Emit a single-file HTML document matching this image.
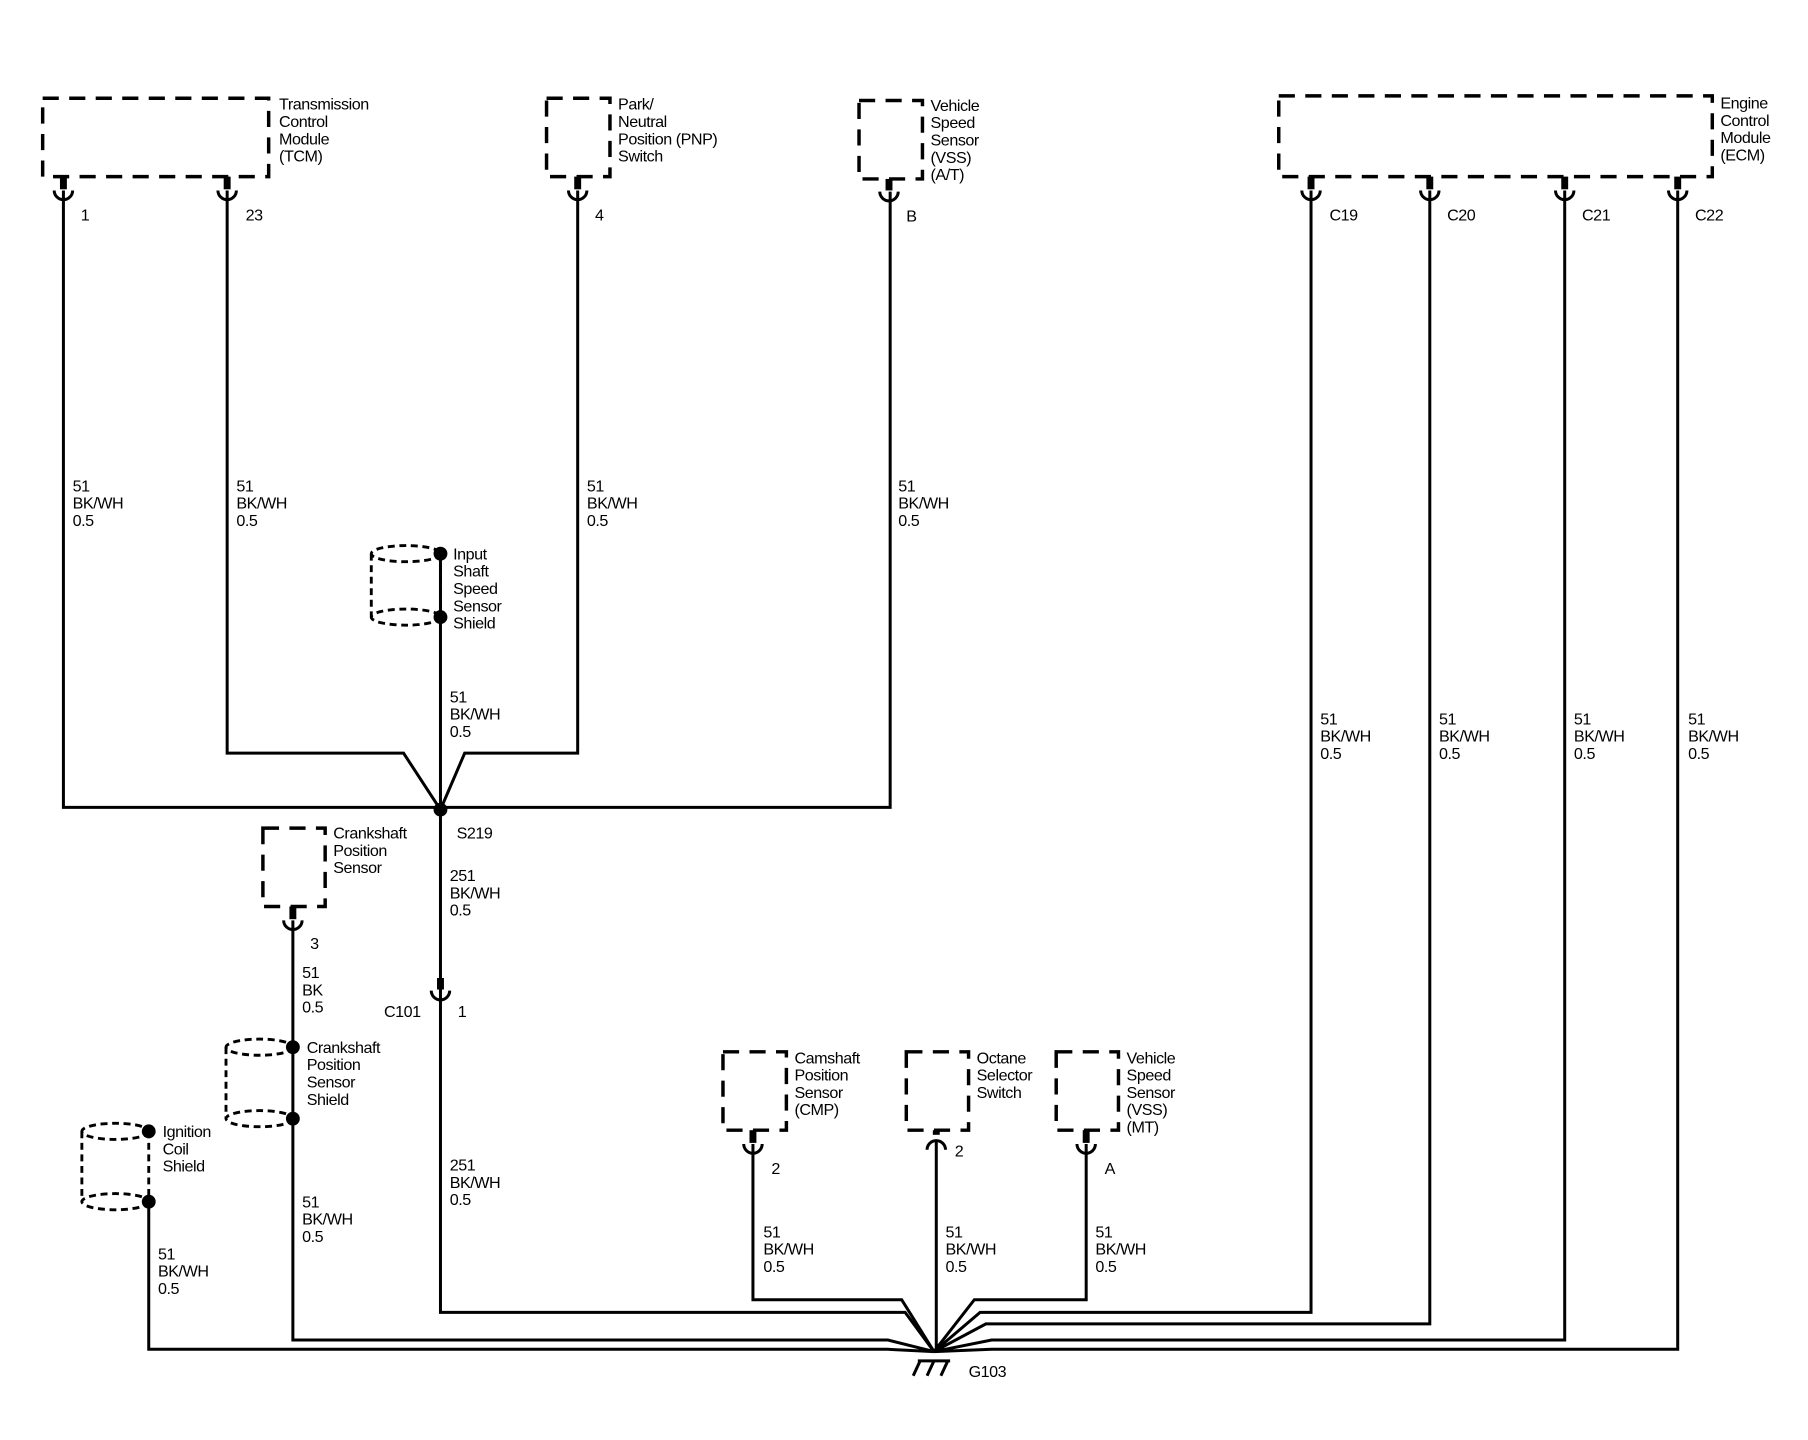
<!DOCTYPE html>
<html><head><meta charset="utf-8"><style>html,body{margin:0;padding:0;background:#fff}svg{display:block}text{font-family:"Liberation Sans",sans-serif;font-size:14px;fill:#000;letter-spacing:-0.4px}</style></head><body>
<svg width="1808" height="1440" viewBox="0 0 1568 1248.5" xmlns="http://www.w3.org/2000/svg">
<g fill="none" stroke="#000" stroke-width="3" stroke-dasharray="14,9">
<rect x="37" y="85" width="196" height="68"/>
<rect x="474" y="85" width="55" height="68"/>
<rect x="745" y="87" width="55" height="68"/>
<rect x="1109" y="83" width="376" height="70"/>
<rect x="228" y="718" width="54" height="68"/>
<rect x="627" y="912" width="55" height="68"/>
<rect x="786" y="912" width="54" height="68"/>
<rect x="916" y="912" width="54" height="68"/>
</g>
<g fill="none" stroke="#000" stroke-width="2.5" stroke-dasharray="6,4">
<ellipse cx="352" cy="480" rx="30" ry="7"/><ellipse cx="352" cy="535" rx="30" ry="7"/><line x1="322" y1="480" x2="322" y2="535"/><line x1="382" y1="480" x2="382" y2="535"/>
<ellipse cx="225" cy="908" rx="29" ry="7"/><ellipse cx="225" cy="970" rx="29" ry="7"/><line x1="196" y1="908" x2="196" y2="970"/>
<ellipse cx="100" cy="981" rx="29" ry="7"/><ellipse cx="100" cy="1042" rx="29" ry="7"/><line x1="71" y1="981" x2="71" y2="1042"/><line x1="129" y1="981" x2="129" y2="1042"/>
</g>
<g fill="#000">
<rect x="52" y="153" width="6" height="11"/><rect x="194" y="153" width="6" height="11"/><rect x="498" y="153" width="6" height="11"/><rect x="768" y="155" width="6" height="10"/>
<rect x="1134" y="153" width="6" height="11"/><rect x="1237" y="153" width="6" height="11"/><rect x="1354" y="153" width="6" height="11"/><rect x="1452" y="153" width="6" height="11"/>
<rect x="251" y="786" width="6" height="11"/><rect x="650" y="980" width="6" height="11"/><rect x="939" y="980" width="6" height="11"/><rect x="809" y="980" width="6" height="4"/>
<rect x="379" y="848" width="6" height="10"/>
<circle cx="382" cy="480" r="6"/><circle cx="382" cy="535" r="6"/><circle cx="382" cy="702" r="6"/>
<circle cx="254" cy="908" r="6"/><circle cx="254" cy="970" r="6"/><circle cx="129" cy="981" r="6"/><circle cx="129" cy="1042" r="6"/>
</g>
<g fill="none" stroke="#000" stroke-width="2.6">
<path d="M47,165 A8,8 0 0 0 63,165 M189,165 A8,8 0 0 0 205,165 M493,165 A8,8 0 0 0 509,165 M763,166 A8,8 0 0 0 779,166 M1129,165 A8,8 0 0 0 1145,165 M1232,165 A8,8 0 0 0 1248,165 M1349,165 A8,8 0 0 0 1365,165 M1447,165 A8,8 0 0 0 1463,165 M246,798 A8,8 0 0 0 262,798 M645,992 A8,8 0 0 0 661,992 M934,992 A8,8 0 0 0 950,992 M374,859 A8,8 0 0 0 390,859 M804,997 A8,8 0 0 1 820,997"/>
<path d="M55,165 V700 H772 V166 M197,165 V653 H350 L382,702 M501,165 V653 H403 L382,702 M382,480 V870 M382,866 V1138 H785 L810,1172"/>
<path d="M254,798 V1162 H770 L810,1172 M129,1042 V1170 H770 L810,1172"/>
<path d="M653,992 V1127 H782 L810,1172 M812,989 V1172 M942,992 V1127 H845 L810,1172"/>
<path d="M1137,165 V1138 H850 L810,1172 M1240,165 V1148 H855 L810,1172 M1357,165 V1162 H860 L810,1172 M1455,165 V1170 H860 L810,1172"/>
<path d="M798,1180 L792,1193 M810,1180 L804,1193 M822,1180 L816,1193 M796,1180 H824"/>
</g>
<g>
<text x="242" y="95">Transmission</text><text x="242" y="110">Control</text><text x="242" y="125">Module</text><text x="242" y="140">(TCM)</text>
<text x="536" y="95">Park/</text><text x="536" y="110">Neutral</text><text x="536" y="125">Position (PNP)</text><text x="536" y="140">Switch</text>
<text x="807" y="96">Vehicle</text><text x="807" y="111">Speed</text><text x="807" y="126">Sensor</text><text x="807" y="141">(VSS)</text><text x="807" y="156">(A/T)</text>
<text x="1492" y="94">Engine</text><text x="1492" y="109">Control</text><text x="1492" y="124">Module</text><text x="1492" y="139">(ECM)</text>
<text x="70" y="191">1</text><text x="213" y="191">23</text><text x="516" y="191">4</text><text x="786" y="192">B</text>
<text x="1153" y="191">C19</text><text x="1255" y="191">C20</text><text x="1372" y="191">C21</text><text x="1470" y="191">C22</text>
<text x="63" y="426">51</text><text x="63" y="441">BK/WH</text><text x="63" y="456">0.5</text>
<text x="205" y="426">51</text><text x="205" y="441">BK/WH</text><text x="205" y="456">0.5</text>
<text x="509" y="426">51</text><text x="509" y="441">BK/WH</text><text x="509" y="456">0.5</text>
<text x="779" y="426">51</text><text x="779" y="441">BK/WH</text><text x="779" y="456">0.5</text>
<text x="393" y="485">Input</text><text x="393" y="500">Shaft</text><text x="393" y="515">Speed</text><text x="393" y="530">Sensor</text><text x="393" y="545">Shield</text>
<text x="390" y="609">51</text><text x="390" y="624">BK/WH</text><text x="390" y="639">0.5</text>
<text x="1145" y="628">51</text><text x="1145" y="643">BK/WH</text><text x="1145" y="658">0.5</text>
<text x="1248" y="628">51</text><text x="1248" y="643">BK/WH</text><text x="1248" y="658">0.5</text>
<text x="1365" y="628">51</text><text x="1365" y="643">BK/WH</text><text x="1365" y="658">0.5</text>
<text x="1464" y="628">51</text><text x="1464" y="643">BK/WH</text><text x="1464" y="658">0.5</text>
<text x="396" y="727">S219</text>
<text x="289" y="727">Crankshaft</text><text x="289" y="742">Position</text><text x="289" y="757">Sensor</text>
<text x="390" y="764">251</text><text x="390" y="779">BK/WH</text><text x="390" y="794">0.5</text>
<text x="269" y="823">3</text>
<text x="262" y="848">51</text><text x="262" y="863">BK</text><text x="262" y="878">0.5</text>
<text x="333" y="882">C101</text><text x="397" y="882">1</text>
<text x="266" y="913">Crankshaft</text><text x="266" y="928">Position</text><text x="266" y="943">Sensor</text><text x="266" y="958">Shield</text>
<text x="141" y="986">Ignition</text><text x="141" y="1001">Coil</text><text x="141" y="1016">Shield</text>
<text x="390" y="1015">251</text><text x="390" y="1030">BK/WH</text><text x="390" y="1045">0.5</text>
<text x="262" y="1047">51</text><text x="262" y="1062">BK/WH</text><text x="262" y="1077">0.5</text>
<text x="137" y="1092">51</text><text x="137" y="1107">BK/WH</text><text x="137" y="1122">0.5</text>
<text x="689" y="922">Camshaft</text><text x="689" y="937">Position</text><text x="689" y="952">Sensor</text><text x="689" y="967">(CMP)</text>
<text x="847" y="922">Octane</text><text x="847" y="937">Selector</text><text x="847" y="952">Switch</text>
<text x="977" y="922">Vehicle</text><text x="977" y="937">Speed</text><text x="977" y="952">Sensor</text><text x="977" y="967">(VSS)</text><text x="977" y="982">(MT)</text>
<text x="669" y="1018">2</text><text x="828" y="1003">2</text><text x="958" y="1018">A</text>
<text x="662" y="1073">51</text><text x="662" y="1088">BK/WH</text><text x="662" y="1103">0.5</text>
<text x="820" y="1073">51</text><text x="820" y="1088">BK/WH</text><text x="820" y="1103">0.5</text>
<text x="950" y="1073">51</text><text x="950" y="1088">BK/WH</text><text x="950" y="1103">0.5</text>
<text x="840" y="1194">G103</text>
</g>
</svg>
</body></html>
